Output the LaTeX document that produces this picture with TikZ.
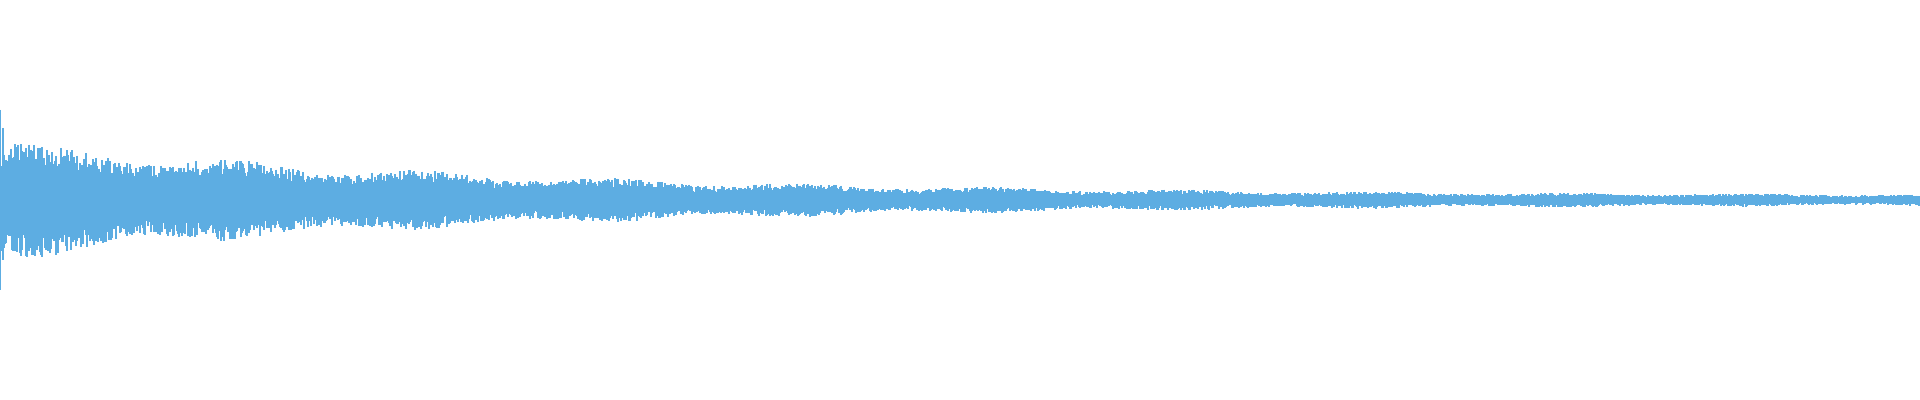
\documentclass[tikz,border=0pt]{standalone}
\definecolor{wave}{HTML}{5DADE2}
\begin{document}
\begin{tikzpicture}[x=0.01cm,y=0.01cm]
\useasboundingbox (0,0) rectangle (1920,400);
\pgfmathsetseed{7}
\foreach \x in {0,1,...,1919}{
  \pgfmathsetmacro{\a}{(4+50*exp(-\x/520))*(1+0.15*sin(\x*1.9))}
  \pgfmathsetmacro{\h}{\a*(0.55+0.45*rnd)}
  \pgfmathsetmacro{\l}{\a*(0.55+0.45*rnd)}
  \draw[wave,line width=0.012cm] (\x,{200+\h}) -- (\x,{200-\l});
}
\draw[wave,line width=0.015cm] (0.5,290) -- (0.5,110);
\draw[wave,line width=0.015cm] (3,272) -- (3,140);
\end{tikzpicture}
\end{document}
